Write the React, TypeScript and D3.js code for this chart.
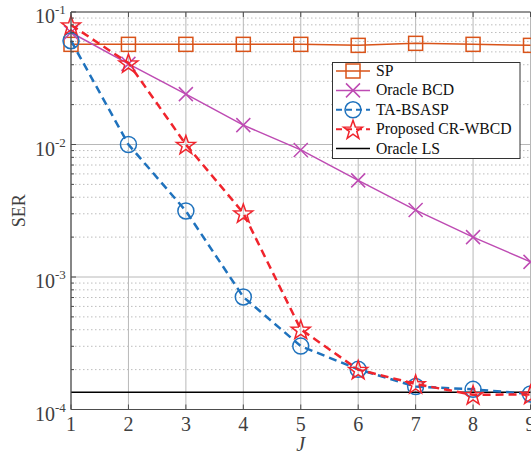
import React from "react";
import * as d3 from "d3";

const J = [1, 2, 3, 4, 5, 6, 7, 8, 9];
const sp = [0.057, 0.057, 0.057, 0.057, 0.057, 0.056, 0.058, 0.057, 0.056];
const oracleBCD = [0.07, 0.0406, 0.024, 0.014, 0.0091, 0.00536, 0.0032, 0.002, 0.0013];
const taBSASP = [0.0607, 0.01, 0.00315, 0.000707, 0.000301, 0.000201, 0.000149, 0.000142, 0.000131];
const proposed = [0.0798, 0.0412, 0.01, 0.00304, 0.000403, 0.0002, 0.000156, 0.000129, 0.00013];
const oracleLS = 0.000135;
const yTickExps = [-1, -2, -3, -4];
const legendLabels = ["SP", "Oracle BCD", "TA-BSASP", "Proposed CR-WBCD", "Oracle LS"];

const W = 531, H = 457;
const L = 71, R = 530.5, T = 12, B = 409.5;

const x = d3.scaleLinear().domain([1, 9]).range([L, R]);
const y = d3.scaleLog().domain([1e-4, 1e-1]).range([B, T]);

const C_SP = "#D95319";
const C_BCD = "#BE4BB3";
const C_TA = "#1F72BD";
const C_PR = "#F0242C";

function starPath(cx: number, cy: number, ro: number, ri: number) {
  const pts: string[] = [];
  for (let i = 0; i < 10; i++) {
    const r = i % 2 === 0 ? ro : ri;
    const a = -Math.PI / 2 + (i * Math.PI) / 5;
    pts.push(`${cx + r * Math.cos(a)},${cy + r * Math.sin(a)}`);
  }
  return "M" + pts.join("L") + "Z";
}

function Marker({ kind, cx, cy, color }: { kind: string; cx: number; cy: number; color: string }) {
  if (kind === "square") return <rect x={cx - 7} y={cy - 7} width={14} height={14} fill="none" stroke={color} strokeWidth={1.5} />;
  if (kind === "cross")
    return (
      <path d={`M${cx - 7},${cy - 7}L${cx + 7},${cy + 7}M${cx - 7},${cy + 7}L${cx + 7},${cy - 7}`} stroke={color} strokeWidth={1.5} />
    );
  if (kind === "circle") return <circle cx={cx} cy={cy} r={8} fill="none" stroke={color} strokeWidth={1.5} />;
  return <path d={starPath(cx, cy + 1, 10, 4)} fill="none" stroke={color} strokeWidth={1.5} />;
}

export default function App() {
  const line = d3
    .line<number>()
    .x((_, i) => x(J[i]))
    .y((d) => y(d));

  const series = [
    { data: sp, color: C_SP, kind: "square", dash: undefined as string | undefined, w: 1.5 },
    { data: oracleBCD, color: C_BCD, kind: "cross", dash: undefined, w: 1.5 },
    { data: taBSASP, color: C_TA, kind: "circle", dash: "8,5", w: 2.5 },
    { data: proposed, color: C_PR, kind: "star", dash: "8,5", w: 2.5 },
  ];

  const minors: number[] = [];
  for (let e = -4; e < -1; e++) for (let k = 2; k <= 9; k++) minors.push(k * Math.pow(10, e));

  const font = "'Liberation Serif', 'Times New Roman', serif";

  return (
    <svg width={W} height={H} style={{ position: "absolute", left: 0, top: 0, background: "#fff" }} fontFamily={font}>
      <rect x={0} y={0} width={W} height={H} fill="#fff" />
      {/* minor grid */}
      {minors.map((v) => (
        <line key={"m" + v} x1={L} x2={R} y1={y(v)} y2={y(v)} stroke="#bdbdbd" strokeWidth={1} strokeDasharray="1.5,2.5" />
      ))}
      {/* major grid */}
      {yTickExps.map((e) => (
        <line key={"gy" + e} x1={L} x2={R} y1={y(Math.pow(10, e))} y2={y(Math.pow(10, e))} stroke="#b8b8b8" strokeWidth={1} />
      ))}
      {J.map((j) => (
        <line key={"gx" + j} x1={x(j)} x2={x(j)} y1={T} y2={B} stroke="#b8b8b8" strokeWidth={1} />
      ))}
      {/* oracle LS */}
      <line x1={L} x2={R} y1={y(oracleLS)} y2={y(oracleLS)} stroke="#000" strokeWidth={1.5} />
      {/* series */}
      {series.map((s, si) => (
        <g key={"s" + si}>
          <path d={line(s.data) || ""} fill="none" stroke={s.color} strokeWidth={s.w} strokeDasharray={s.dash} />
          {s.data.map((v, i) => (
            <Marker key={i} kind={s.kind} cx={x(J[i])} cy={y(v)} color={s.color} />
          ))}
        </g>
      ))}
      {/* axes */}
      <line x1={L} x2={R} y1={B} y2={B} stroke="#4d4d4d" strokeWidth={1.2} />
      <line x1={L} x2={R} y1={T} y2={T} stroke="#4d4d4d" strokeWidth={1.2} />
      <line x1={L} x2={L} y1={T} y2={B} stroke="#4d4d4d" strokeWidth={1.2} />
      {J.map((j) => (
        <g key={"tx" + j}>
          <line x1={x(j)} x2={x(j)} y1={B} y2={B - 5} stroke="#4d4d4d" />
          <line x1={x(j)} x2={x(j)} y1={T} y2={T + 5} stroke="#4d4d4d" />
          <text x={x(j)} y={B + 21} textAnchor="middle" fontSize={20} fill="#404040">
            {j}
          </text>
        </g>
      ))}
      {minors.map((v) => (
        <line key={"mt" + v} x1={L} x2={L + 3} y1={y(v)} y2={y(v)} stroke="#4d4d4d" />
      ))}
      {yTickExps.map((e) => {
        const yy = y(Math.pow(10, e));
        return (
          <g key={"ty" + e}>
            <line x1={L} x2={L + 5} y1={yy} y2={yy} stroke="#4d4d4d" />
            <text x={55} y={yy + 11} textAnchor="end" fontSize={20} fill="#404040">
              10
            </text>
            <text x={55} y={yy + 2} textAnchor="start" fontSize={13} fill="#404040">
              {e}
            </text>
          </g>
        );
      })}
      <text x={(L + R) / 2} y={451} textAnchor="middle" fontSize={20} fontStyle="italic" fill="#404040">
        J
      </text>
      <text transform={`translate(25,${(T + B) / 2}) rotate(-90)`} textAnchor="middle" fontSize={18} fill="#404040">
        SER
      </text>
      {/* legend */}
      <rect x={332.5} y={62.5} width={187.5} height={96} fill="#fff" stroke="#333" strokeWidth={1} />
      {legendLabels.map((lab, i) => {
        const yy = 71 + i * 19.4;
        const s = series[i];
        return (
          <g key={"lg" + i}>
            {s ? (
              <>
                <line x1={336} x2={370} y1={yy} y2={yy} stroke={s.color} strokeWidth={s.w > 2 ? 2 : 1.5} strokeDasharray={s.dash ? "6,4" : undefined} />
                <Marker kind={s.kind} cx={353} cy={yy} color={s.color} />
              </>
            ) : (
              <line x1={336} x2={370} y1={yy} y2={yy} stroke="#000" strokeWidth={1.5} />
            )}
            <text x={376} y={yy + 5} fontSize={15.7} fill="#111">
              {lab}
            </text>
          </g>
        );
      })}
    </svg>
  );
}
